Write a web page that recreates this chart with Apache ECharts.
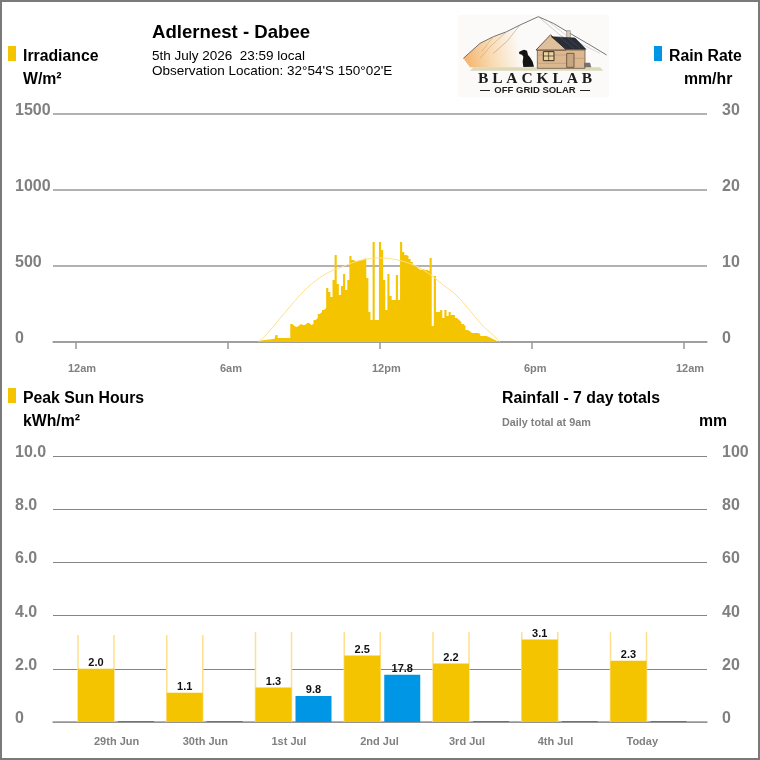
<!DOCTYPE html>
<html>
<head>
<meta charset="utf-8">
<style>html,body{margin:0;padding:0;background:#fff}#chart{width:760px;height:760px}</style>
<script src="https://cdn.jsdelivr.net/npm/echarts@6/dist/echarts.min.js"></script>
</head>
<body>
<div id="chart"></div>
<script>
// Irradiance in W/m², one reading every five minutes starting at irradianceStartHour
const irradianceStartHour = 87 * 5 / 60;
const irradiance = [
  10,10,13,13,16,16,20,20,46,26,26,26,26,26,26,118,105,99,105,118,112,112,125,125,112,118,145,158,
  184,197,211,224,355,329,296,408,572,382,309,368,447,342,408,566,540,533,533,540,540,546,553,421,
  197,145,658,145,145,658,605,408,211,447,303,276,276,441,276,658,592,572,566,546,526,507,493,480,
  474,480,474,474,467,553,105,434,197,197,211,158,211,171,197,178,178,158,145,132,118,105,79,72,
  59,59,59,59,53,39,39,39,33,26,20,13,7,7,0
];

// Clear-sky envelope of the irradiance plot
const clearSkyHours = [7.2,7.5,8,8.5,9,9.5,10,10.5,11,11.5,12,12.5,13,13.5,14,14.5,15,15.5,16,16.5,16.75];
const clearSky = [0,46,145,243,336,408,461,494,526,546,553,546,526,494,441,375,309,217,118,39,0];

const hourTicks = [0,6,12,18,24];
const hourLabels = ['12am','6am','12pm','6pm','12am'];

// Seven day summary
const days = ['29th Jun','30th Jun','1st Jul','2nd Jul','3rd Jul','4th Jul','Today'];
const peakSunHours = [2.0,1.1,1.3,2.5,2.2,3.1,2.3];
const clearSkySunHours = [3.27,3.27,3.38,3.38,3.38,3.38,3.38];
const rainfall = [0,0,9.8,17.8,0,0,0];

const AMBER = '#f5c400', BLUE = '#0096e6', PALE = '#ffdf8c', GREY = '#808080', LINE = '#999999', LINE_LOW = '#858585';
const FONT = '"Liberation Sans", Arial, sans-serif';

// Pixel scale of the lower chart's day slots, used for label and outline offsets
const SLOT_PX = 88.75;
const HOUR_PX = 25.333;

function t(x, y, text, size, opts) {
  return { type: 'text', x: x, y: y, silent: true, z: 20, style: Object.assign({
    text: text, font: 'bold ' + size + 'px ' + FONT, fill: '#000', verticalAlign: 'middle'
  }, opts || {}) };
}
function swatch(x, y, color) {
  return { type: 'rect', silent: true, z: 20, shape: { x: x, y: y, width: 8, height: 15 }, style: { fill: color } };
}

// Brand mark built from simple shapes; lp maps a 3x local grid onto the page
const LOGO_BG = '#fbfaf8';
const lp = pts => pts.map(p => [450 + p[0] / 3, 10 + p[1] / 3]);
function poly(pts, style, z) {
  return { type: 'polygon', silent: true, z: z || 21, shape: { points: lp(pts) }, style: style };
}
function pline(pts, stroke, w, z) {
  return { type: 'polyline', silent: true, z: z || 22, shape: { points: lp(pts) }, style: { stroke: stroke, lineWidth: w, fill: null } };
}
function brandMark() {
  const ridge = [[40,145],[90,100],[130,80],[170,65],[210,45],[265,20],[310,40],[360,70],[420,105],[470,135]];
  return [
    { type: 'rect', silent: true, z: 20, shape: { x: 458, y: 15, width: 151, height: 82 }, style: { fill: LOGO_BG } },
    poly([[40,145],[90,100],[130,80],[170,65],[210,45],[230,100],[215,172],[60,172]], { fill: {
      type: 'linear', x: 0, y: 0.8, x2: 1, y2: 0.5,
      colorStops: [{ offset: 0, color: '#f4b26a' }, { offset: 0.45, color: '#f9dcb6' }, { offset: 0.9, color: LOGO_BG }, { offset: 1, color: LOGO_BG }]
    } }, 21),
    pline(ridge, '#555555', 0.8),
    pline([[265,20],[330,75],[400,120]], '#a0a0a0', 0.5),
    pline([[290,30],[360,85],[450,130]], '#b8b8b8', 0.5),
    pline([[210,45],[170,95],[130,130]], '#b58a5a', 0.5),
    pline([[170,65],[120,110],[90,145]], '#c99a62', 0.5),
    pline([[130,80],[95,125]], '#c99a62', 0.5),
    poly([[70,172],[450,172],[460,182],[60,182]], { fill: '#cfcb9c', opacity: 0.7 }, 22),
    poly([[262,120],[405,120],[405,175],[262,175]], { fill: '#dcb890', stroke: '#5a4636', lineWidth: 0.7 }, 23),
    poly([[258,120],[302,74],[348,120]], { fill: '#e0c09c', stroke: '#5a4636', lineWidth: 0.9 }, 24),
    poly([[350,62],[361,62],[361,90],[350,90]], { fill: '#d8cdbf', stroke: '#7a6a5a', lineWidth: 0.5 }, 23),
    poly([[304,80],[375,84],[408,118],[348,118]], { fill: '#2a2e38', stroke: '#1c1c1c', lineWidth: 0.6 }, 24),
    pline([[330,82],[372,116]], '#5a6070', 0.4, 25),
    pline([[352,83],[392,116]], '#5a6070', 0.4, 25),
    poly([[280,125],[312,125],[312,152],[280,152]], { fill: '#ead39c', stroke: '#3a2c20', lineWidth: 1 }, 25),
    pline([[296,125],[296,152]], '#3a2c20', 0.7, 26),
    pline([[280,138],[312,138]], '#3a2c20', 0.7, 26),
    poly([[350,130],[372,130],[372,172],[350,172]], { fill: '#c9a680', stroke: '#4a3a2c', lineWidth: 0.7 }, 25),
    pline([[262,135],[350,135]], '#a98460', 0.4, 24),
    pline([[262,160],[350,160]], '#a98460', 0.4, 24),
    pline([[372,145],[405,145]], '#a98460', 0.4, 24),
    // seated dog
    poly([[207,126],[214,122],[222,119],[231,122],[234,135],[240,142],[248,155],[252,170],[220,171],[218,155],[220,140],[216,134],[208,132]], { fill: '#141414' }, 25),
    poly([[402,158],[420,158],[424,172],[402,172]], { fill: '#77736c' }, 23),
    { type: 'line', silent: true, z: 22, shape: { x1: 480, y1: 90.5, x2: 490, y2: 90.5 }, style: { stroke: '#222', lineWidth: 1 } },
    { type: 'line', silent: true, z: 22, shape: { x1: 580, y1: 90.5, x2: 590, y2: 90.5 }, style: { stroke: '#222', lineWidth: 1 } },
    t(535, 79, 'B L A C K L A B', 15.5, { font: 'bold 15.5px "Liberation Serif", serif', fill: '#1c1c1c', align: 'center' }),
    t(535, 90.5, 'OFF GRID SOLAR', 9.5, { fill: '#1c1c1c', align: 'center' })
  ];
}

const irradiancePoints = irradiance.map((v, i) => [irradianceStartHour + i * 5 / 60, v]);
const clearSkyPoints = clearSkyHours.map((h, i) => [h, clearSky[i]]);
const sunPoints = peakSunHours.map((v, i) => [i, v]);
const rainPoints = rainfall.map((v, i) => [i, v]);
const envelopePoints = clearSkySunHours.map((v, i) => [i, v]);

const valueLabel = { fontFamily: FONT, fontWeight: 'bold', fontSize: 16, color: GREY, align: 'left', verticalAlign: 'bottom', lineHeight: 7 };
const hourLabelShift = 8 / HOUR_PX;
const dayLabelShift = 22 / SLOT_PX;

const chart = echarts.init(document.getElementById('chart'), null, { renderer: 'canvas' });
chart.setOption({
  animation: false,
  backgroundColor: '#fff',
  textStyle: { fontFamily: FONT },
  grid: [
    { left: 53, width: 654, top: 114, height: 228 },
    { left: 53, width: 654, top: 456, height: 266 }
  ],
  xAxis: [
    {
      type: 'value', gridIndex: 0, min: -23 / HOUR_PX, max: 631 / HOUR_PX, splitLine: { show: false },
      axisLine: { show: true, onZero: false, lineStyle: { color: LINE, width: 1.5 } },
      axisTick: { show: true, length: 7, customValues: hourTicks, lineStyle: { color: LINE, width: 1.5 } },
      axisLabel: {
        show: true, margin: 21, fontFamily: FONT, fontWeight: 'bold', fontSize: 11, color: GREY, align: 'left',
        customValues: hourTicks.map(h => h - hourLabelShift),
        formatter: v => hourLabels[hourTicks.indexOf(Math.round(v + hourLabelShift))]
      }
    },
    {
      type: 'value', gridIndex: 1, min: -63 / SLOT_PX, max: 591 / SLOT_PX, splitLine: { show: false },
      axisLine: { show: true, onZero: false, lineStyle: { color: LINE, width: 1.5 } },
      axisTick: { show: false },
      axisLabel: {
        show: true, margin: 14, fontFamily: FONT, fontWeight: 'bold', fontSize: 11, color: GREY, align: 'left',
        customValues: days.map((d, i) => i - dayLabelShift),
        formatter: v => days[Math.round(v + dayLabelShift)]
      }
    }
  ],
  yAxis: [
    { type: 'value', gridIndex: 0, min: 0, max: 1500, interval: 500, position: 'left',
      axisLine: { show: false }, axisTick: { show: false },
      splitLine: { lineStyle: { color: LINE, width: 1.5 } },
      axisLabel: Object.assign({ margin: 38, formatter: v => String(v) }, valueLabel) },
    { type: 'value', gridIndex: 0, min: 0, max: 30, interval: 10, position: 'right',
      axisLine: { show: false }, axisTick: { show: false }, splitLine: { show: false },
      axisLabel: Object.assign({ margin: 15 }, valueLabel) },
    { type: 'value', gridIndex: 1, min: 0, max: 10, interval: 2, position: 'left',
      axisLine: { show: false }, axisTick: { show: false },
      splitLine: { lineStyle: { color: LINE_LOW, width: 1.2 } },
      axisLabel: Object.assign({ margin: 38, formatter: v => v === 0 ? '0' : v.toFixed(1) }, valueLabel) },
    { type: 'value', gridIndex: 1, min: 0, max: 100, interval: 20, position: 'right',
      axisLine: { show: false }, axisTick: { show: false }, splitLine: { show: false },
      axisLabel: Object.assign({ margin: 15 }, valueLabel) }
  ],
  series: [
    {
      name: 'Irradiance', type: 'line', xAxisIndex: 0, yAxisIndex: 0, data: irradiancePoints,
      step: 'middle', symbol: 'none', lineStyle: { width: 0 }, areaStyle: { color: AMBER, opacity: 1 }, z: 3
    },
    {
      name: 'Clear sky', type: 'line', xAxisIndex: 0, yAxisIndex: 0, data: clearSkyPoints,
      smooth: 0.4, symbol: 'none', lineStyle: { color: PALE, width: 1 }, z: 4
    },
    { name: 'Rain Rate', type: 'line', xAxisIndex: 0, yAxisIndex: 1, data: [], symbol: 'none' },
    {
      // White column with pale side rules showing the clear-sky daily total
      name: 'Clear sky hours', type: 'custom', xAxisIndex: 1, yAxisIndex: 2, data: envelopePoints, z: 2,
      renderItem: (params, api) => {
        const top = api.coord([api.value(0), api.value(1)]);
        const bottom = api.coord([api.value(0), 0]);
        const x0 = top[0] - 38, x1 = top[0] - 2;
        const rule = { stroke: PALE, lineWidth: 1.5 };
        return { type: 'group', children: [
          { type: 'rect', shape: { x: x0, y: top[1], width: x1 - x0, height: bottom[1] - top[1] }, style: { fill: '#fff' } },
          { type: 'line', shape: { x1: x0, y1: top[1], x2: x0, y2: bottom[1] }, style: rule },
          { type: 'line', shape: { x1: x1, y1: top[1], x2: x1, y2: bottom[1] }, style: rule }
        ] };
      }
    },
    {
      name: 'Peak Sun Hours', type: 'bar', xAxisIndex: 1, yAxisIndex: 2, data: sunPoints, z: 3,
      barWidth: 36, barGap: '11.1%', itemStyle: { color: AMBER },
      label: { show: true, position: 'top', distance: 0, fontFamily: FONT, fontWeight: 'bold', fontSize: 11, color: '#111',
        formatter: p => p.value[1].toFixed(1) }
    },
    {
      name: 'Rainfall', type: 'bar', xAxisIndex: 1, yAxisIndex: 3, data: rainPoints, z: 3,
      barWidth: 36, barMinHeight: 1, itemStyle: { color: BLUE },
      label: { show: true, position: 'top', distance: 0, fontFamily: FONT, fontWeight: 'bold', fontSize: 11, color: '#111',
        formatter: p => p.value[1] > 0 ? p.value[1].toFixed(1) : '' }
    }
  ],
  graphic: [
    { type: 'rect', silent: true, z: 30, shape: { x: 1, y: 1, width: 758, height: 758 }, style: { fill: null, stroke: '#7a7a7a', lineWidth: 2 } },
    swatch(8, 46, AMBER),
    t(23, 56.5, 'Irradiance', 15.8),
    t(23, 79.5, 'W/m²', 15.8),
    t(152, 33, 'Adlernest - Dabee', 18.6),
    t(152, 56.5, '5th July 2026  23:59 local', 13.5, { font: '13.5px ' + FONT }),
    t(152, 71.5, "Observation Location: 32°54'S 150°02'E", 13.5, { font: '13.5px ' + FONT }),
    swatch(654, 46, BLUE),
    t(669, 56.5, 'Rain Rate', 15.8),
    t(684, 79.5, 'mm/hr', 15.8),
    swatch(8, 388, AMBER),
    t(23, 398.5, 'Peak Sun Hours', 15.8),
    t(23, 421.5, 'kWh/m²', 15.8),
    t(502, 398.5, 'Rainfall - 7 day totals', 15.8),
    t(502, 423, 'Daily total at 9am', 10.8, { fill: GREY }),
    t(699, 421.5, 'mm', 15.8)
  ].concat(brandMark())
});
</script>
</body>
</html>
